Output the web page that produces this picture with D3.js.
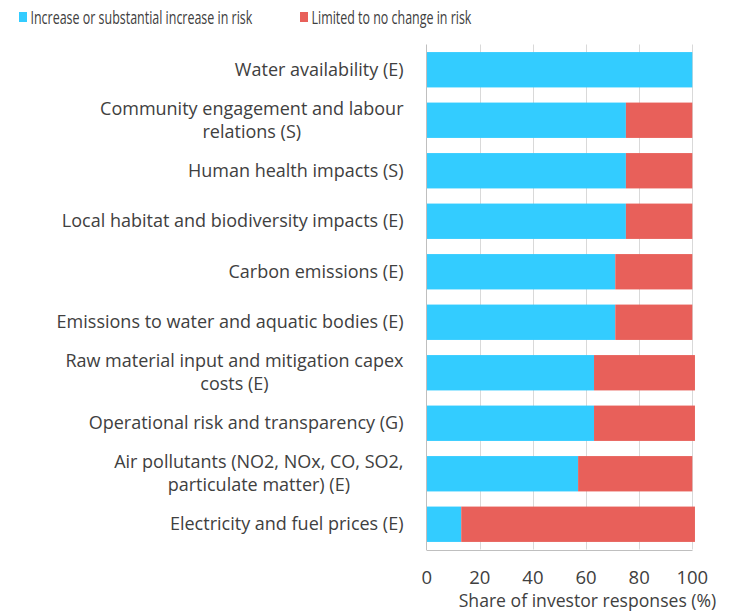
<!DOCTYPE html>
<html>
<head>
<meta charset="utf-8">
<script src="https://cdn.jsdelivr.net/npm/d3@7"></script>
<style>
  body { margin: 0; background: #fff; }
  text { font-family: "Open Sans", sans-serif; fill: #404040; }
</style>
</head>
<body>
<script>
(function(){

//chart data
var categories = [
    ["Water availability (E)"],
    ["Community engagement and labour", "relations (S)"],
    ["Human health impacts (S)"],
    ["Local habitat and biodiversity impacts (E)"],
    ["Carbon emissions (E)"],
    ["Emissions to water and aquatic bodies (E)"],
    ["Raw material input and mitigation capex", "costs (E)"],
    ["Operational risk and transparency (G)"],
    ["Air pollutants (NO2, NOx, CO, SO2,", "particulate matter) (E)"],
    ["Electricity and fuel prices (E)"]
];
var increaseValues = [100, 75, 75, 75, 71, 71, 63, 63, 57, 13];
var limitedValues  = [0, 25, 25, 25, 29, 29, 38, 38, 43, 88];
var seriesNames = ["Increase or substantial increase in risk", "Limited to no change in risk"];
var seriesColors = ["#33ccff", "#e8605a"];
var xTicks = [0, 20, 40, 60, 80, 100];
var xTitle = "Share of investor responses (%)";

var width = 741, height = 612;
var left = 426.7, right = 692.3, top = 44.5, bottom = 549.5;

var svg = d3.select("body").append("svg")
    .attr("width", width)
    .attr("height", height);

var x = d3.scaleLinear().domain([0, 100]).range([left, right]);
var y = d3.scaleBand()
    .domain(d3.range(categories.length))
    .range([top, bottom])
    .paddingInner(0.3)
    .paddingOuter(0.15);

//gridlines
svg.selectAll(".grid")
    .data(xTicks.slice(1))
    .enter().append("line")
    .attr("x1", function(d){ return Math.round(x(d)) + 0.5; })
    .attr("x2", function(d){ return Math.round(x(d)) + 0.5; })
    .attr("y1", top).attr("y2", bottom)
    .attr("stroke", "#d9d9d9").attr("stroke-width", 1);

//stacked rows
var rows = categories.map(function(c, i){
    return { i: i, a: increaseValues[i], b: limitedValues[i] };
});

svg.selectAll(".barA")
    .data(rows).enter().append("rect")
    .attr("x", x(0))
    .attr("y", function(d){ return y(d.i); })
    .attr("width", function(d){ return x(d.a) - x(0); })
    .attr("height", y.bandwidth())
    .attr("fill", seriesColors[0]);

svg.selectAll(".barB")
    .data(rows).enter().append("rect")
    .attr("x", function(d){ return x(d.a); })
    .attr("y", function(d){ return y(d.i); })
    .attr("width", function(d){ return x(d.a + d.b) - x(d.a); })
    .attr("height", y.bandwidth())
    .attr("fill", seriesColors[1]);

//axis lines
svg.append("line")
    .attr("x1", Math.round(left) - 0.5).attr("x2", Math.round(left) - 0.5)
    .attr("y1", top).attr("y2", bottom + 0.5)
    .attr("stroke", "#bfbfbf");
svg.append("line")
    .attr("x1", Math.round(left) - 0.5).attr("x2", Math.round(right) + 0.5)
    .attr("y1", Math.round(bottom) + 0.5).attr("y2", Math.round(bottom) + 0.5)
    .attr("stroke", "#bfbfbf");

//x tick labels
svg.selectAll(".tick")
    .data(xTicks).enter().append("text")
    .attr("x", function(d){ return x(d); })
    .attr("y", 584)
    .attr("text-anchor", "middle")
    .style("font-size", "18.5px")
    .text(function(d){ return d; });

svg.append("text")
    .attr("x", 587.5)
    .attr("y", 607)
    .attr("text-anchor", "middle")
    .style("font-size", "17.6px")
    .text(xTitle);

//category labels (centred block, right aligned)
var labelRight = 403.5, lineH = 23;
categories.forEach(function(lines, i){
    var g = svg.append("text")
        .style("font-size", "18px");
    var cy = y(i) + y.bandwidth() / 2;
    var y0 = cy - (lines.length - 1) * lineH / 2 + 6;
    var spans = lines.map(function(l, k){
        return g.append("tspan").attr("y", y0 + k * lineH).text(l);
    });
    var maxW = d3.max(spans, function(s){ return s.node().getComputedTextLength(); });
    g.attr("text-anchor", "middle");
    spans.forEach(function(s){ s.attr("x", labelRight - maxW / 2); });
});

//legend (text squeezed horizontally like the original)
var legendX = [19, 300], legendW = [222, 160];
seriesNames.forEach(function(n, i){
    svg.append("rect")
        .attr("x", legendX[i]).attr("y", 12)
        .attr("width", 8).attr("height", 10)
        .attr("fill", seriesColors[i]);
    var t = svg.append("text")
        .style("font-size", "18px")
        .text(n);
    var sx = legendW[i] / t.node().getComputedTextLength();
    t.attr("transform", "translate(" + (legendX[i] + 11.5) + ",23.5) scale(" + sx + ",1)");
});

})();
</script>
</body>
</html>
